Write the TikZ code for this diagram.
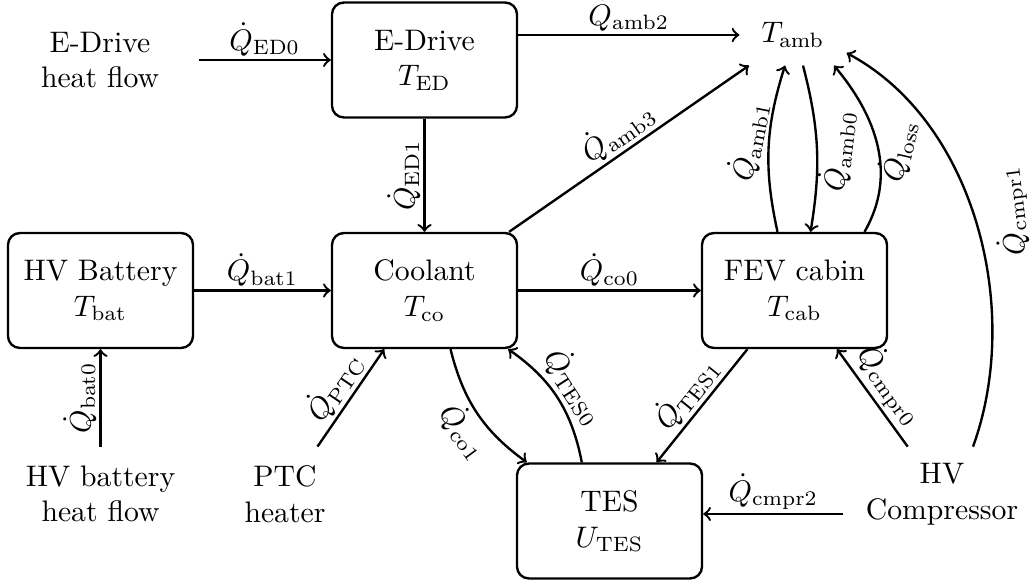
\documentclass[tikz,border=0pt]{standalone}
\usetikzlibrary{calc}
\begin{document}
\begin{tikzpicture}[x=0.3367pt,y=0.3367pt,
  box/.style={draw, thick, rounded corners=4pt, minimum width=62.3pt, minimum height=38.7pt, align=center, inner sep=0pt},
  txt/.style={align=center, minimum width=66pt, minimum height=31.5pt, inner sep=0pt},
  flow/.style={thick,->},
  rflow/.style={thick,<-},
  lab/.style={inner sep=1pt}]
\useasboundingbox (0,0) rectangle (1035,-585);

% nodes
\node[txt] (EDhf) at (100,-60) {E-Drive\\heat flow};
\node[box] (ED) at (424.5,-60) {E-Drive\\$T_{\mathrm{ED}}$};
\node[inner sep=0pt, minimum width=35.7pt, minimum height=20.2pt] (Tamb) at (793,-35) {$T_{\mathrm{amb}}$};
\node[box] (Bat) at (100.5,-290.5) {HV Battery\\$T_{\mathrm{bat}}$};
\node[box] (Cool) at (424.5,-290.5) {Coolant\\$T_{\mathrm{co}}$};
\node[box] (Cab) at (794.5,-290.5) {FEV cabin\\$T_{\mathrm{cab}}$};
\node[box] (TES) at (609.5,-521) {TES\\$U_{\mathrm{TES}}$};
\node[txt] (HVbhf) at (100.5,-494) {HV battery\\heat flow};
\node[txt] (PTC) at (285,-494) {PTC\\heater};
\node[txt] (Comp) at (942,-494) {HV\\Compressor};
\coordinate (c2) at ($(TES.east)+(0,7)$);

% straight connectors
\draw[flow] (EDhf.east) -- node[lab,above]{$\dot{Q}_{\mathrm{ED0}}$} (ED.west);
\draw[flow] (Tamb.west -| ED.east) -- node[lab,above]{$\dot{Q}_{\mathrm{amb2}}$} (Tamb.west);
\draw[flow] (ED.south) -- node[lab,anchor=south,rotate=90]{$\dot{Q}_{\mathrm{ED1}}$} (Cool.north);
\draw[flow] (Bat.east) -- node[lab,above]{$\dot{Q}_{\mathrm{bat1}}$} (Cool.west);
\draw[flow] (Cool.east) -- node[lab,above]{$\dot{Q}_{\mathrm{co0}}$} (Cab.west);
\draw[flow] (HVbhf.north) -- node[lab,anchor=south,rotate=90]{$\dot{Q}_{\mathrm{bat0}}$} (Bat.south);
\draw[flow] (PTC) -- node[lab,above,sloped]{$\dot{Q}_{\mathrm{PTC}}$} (Cool);
\draw[flow] (Cool) -- node[lab,above,sloped]{$\dot{Q}_{\mathrm{amb3}}$} (Tamb);
\draw[flow] (Cab) -- node[lab,above,sloped]{$\dot{Q}_{\mathrm{TES1}}$} (TES);
\draw[flow] (Comp) -- node[lab,above,sloped]{$\dot{Q}_{\mathrm{cmpr0}}$} (Cab);
\draw[flow] (Comp.west |- c2) -- node[lab,above]{$\dot{Q}_{\mathrm{cmpr2}}$} (c2);

% curved connectors
\draw[flow] ($(Cool.south)+(26,0)$) to[bend right=20] node[lab,below,sloped,pos=0.55]{$\dot{Q}_{\mathrm{co1}}$} ($(TES.north west)+(11,0)$);
\draw[flow] ($(TES.north west)+(66,0)$) to[bend right=22] node[lab,above,sloped]{$\dot{Q}_{\mathrm{TES0}}$} ($(Cool.south east)+(-10,0)$);
\draw[flow] ($(Cab.north)+(-17,0)$) to[bend left=15] node[lab,pos=0.52,rotate=79,anchor=south]{$\dot{Q}_{\mathrm{amb1}}$} ($(Tamb.south)+(-8,0)$);
\draw[rflow] ($(Cab.north)+(16,0)$) to[bend right=12] node[lab,pos=0.5,rotate=83,anchor=north]{$\dot{Q}_{\mathrm{amb0}}$} ($(Tamb.south)+(10,0)$);
\draw[flow] ($(Cab.north)+(70,0)$) to[out=60,in=-50] node[lab,pos=0.5,rotate=77,anchor=north]{$\dot{Q}_{\mathrm{loss}}$} ($(Tamb.south)+(41,0)$);
\draw[flow] ($(Comp.north)+(31,0)$) to[out=70,in=-28,looseness=0.9] node[pos=0.52,rotate=97,anchor=north,inner sep=6pt]{$\dot{Q}_{\mathrm{cmpr1}}$} ($(Tamb.east)+(0,-18)$);
\end{tikzpicture}
\end{document}
